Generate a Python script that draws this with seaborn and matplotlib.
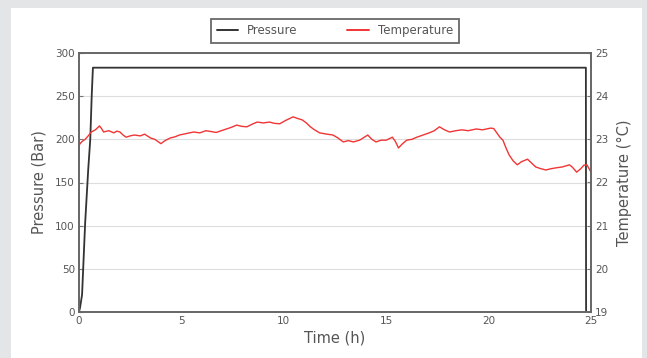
import matplotlib
matplotlib.use("Agg")
import matplotlib.pyplot as plt
import seaborn as sns
import pandas as pd
from matplotlib.patches import Rectangle
from matplotlib.lines import Line2D

# pressure trace (h, bar)
p_time = [0.0, 0.05, 0.15, 0.3, 0.45, 0.55, 0.62, 0.68, 5.0, 10.0, 15.0, 20.0, 24.75, 24.76]
p_bar = [0, 5, 20, 103, 165, 200, 250, 283, 283, 283, 283, 283, 283, 0]

# temperature trace (h, degC)
t_time = [0.0, 0.05, 0.15, 0.3, 0.45, 0.6, 0.8, 1.0, 1.1, 1.2, 1.45, 1.7, 1.85, 2.0, 2.15,
          2.3, 2.5, 2.7, 3.0, 3.2, 3.5, 3.7, 3.85, 4.0, 4.2, 4.45, 4.7, 4.9, 5.2, 5.6,
          5.9, 6.2, 6.45, 6.7, 6.95, 7.2, 7.45, 7.7, 7.95, 8.2, 8.45, 8.7, 9.0, 9.3, 9.55,
          9.8, 10.1, 10.45, 10.7, 10.9, 11.1, 11.3, 11.5, 11.75, 12.1, 12.4, 12.65, 12.9,
          13.15, 13.4, 13.7, 14.1, 14.3, 14.5, 14.75, 15.0, 15.3, 15.45, 15.6, 15.8, 16.0,
          16.25, 16.5, 16.8, 17.1, 17.35, 17.6, 17.85, 18.1, 18.4, 18.7, 19.0, 19.4, 19.7,
          20.1, 20.25, 20.4, 20.55, 20.7, 20.85, 21.0, 21.2, 21.4, 21.6, 21.9, 22.1, 22.3,
          22.55, 22.8, 23.05, 23.3, 23.6, 23.95, 24.1, 24.3, 24.5, 24.65, 24.8, 25.0]
t_degc = [22.85, 22.9, 22.95, 23.0, 23.08, 23.17, 23.22, 23.31, 23.25, 23.17, 23.2, 23.15, 23.19, 23.17, 23.1,
          23.05, 23.08, 23.1, 23.08, 23.12, 23.03, 23.0, 22.95, 22.9, 22.97, 23.03, 23.06, 23.1, 23.13, 23.17,
          23.15, 23.2, 23.18, 23.16, 23.2, 23.24, 23.28, 23.33, 23.3, 23.29, 23.35, 23.4, 23.38, 23.4, 23.37,
          23.36, 23.44, 23.52, 23.48, 23.45, 23.38, 23.29, 23.22, 23.15, 23.12, 23.1, 23.03, 22.94,
          22.97, 22.94, 22.98, 23.1, 23.0, 22.94, 22.98, 22.98, 23.05, 22.95, 22.8, 22.9, 22.98,
          23.0, 23.05, 23.1, 23.15, 23.2, 23.29, 23.22, 23.17, 23.2, 23.22, 23.2, 23.24, 23.22,
          23.26, 23.25, 23.15, 23.05, 22.98, 22.8, 22.64, 22.5, 22.41, 22.48, 22.54, 22.45, 22.36,
          22.32, 22.29, 22.32, 22.34, 22.36, 22.41, 22.35, 22.24, 22.32, 22.4, 22.41, 22.24]

pressure = pd.DataFrame({"time": p_time, "value": p_bar})
temperature = pd.DataFrame({"time": t_time, "value": t_degc})

sns.set_style("white")
plt.rcParams["font.family"] = ["DejaVu Sans"]

fig = plt.figure(figsize=(6.47, 3.58), dpi=100)
fig.patch.set_facecolor("#e4e5e7")
fig.patches.append(Rectangle((11 / 647, 0), 631 / 647, 350 / 358, transform=fig.transFigure,
                             facecolor="white", edgecolor="none", zorder=-1))

ax = fig.add_axes([79 / 647, 1 - 312 / 358, 512 / 647, 259 / 358])
ax2 = ax.twinx()

sns.lineplot(data=temperature, x="time", y="value", ax=ax2, color="#f03535", lw=1.0,
             estimator=None, sort=False)
sns.lineplot(data=pressure, x="time", y="value", ax=ax, color="#333333", lw=1.3,
             estimator=None, sort=False)

ax.set_xlim(0, 25)
ax.set_ylim(0, 300)
ax2.set_ylim(19, 25)
ax.set_xticks([0, 5, 10, 15, 20, 25])
ax.set_yticks(range(0, 301, 50))
ax2.set_yticks(range(19, 26))
ax.yaxis.grid(True, color="#dddddd", lw=0.8)
ax.set_axisbelow(True)

for a in (ax, ax2):
    a.tick_params(direction="in", length=3, labelsize=7.5, labelcolor="#555555", color="#777777", pad=3)
    for s in a.spines.values():
        s.set_color("#666666")
        s.set_linewidth(1.2)

ax.set_xlabel("Time (h)", fontsize=10.5, color="#555555", labelpad=3)
ax.set_ylabel("Pressure (Bar)", fontsize=10.5, color="#555555", labelpad=6)
ax2.set_ylabel("Temperature (°C)", fontsize=10.5, color="#555555", labelpad=6)

handles = [Line2D([], [], color="#333333", lw=1.4), Line2D([], [], color="#f03535", lw=1.4)]
leg = ax.legend(handles, ["Pressure", "Temperature"], loc="lower center", bbox_to_anchor=(0.5, 1.04),
                ncol=2, fontsize=8.5, frameon=True, fancybox=False, shadow=False, borderaxespad=0,
                handlelength=1.8, columnspacing=4.2, borderpad=0.45)
leg.get_frame().set_edgecolor("#444444")
leg.get_frame().set_linewidth(1.3)
for t in leg.get_texts():
    t.set_color("#555555")

fig.savefig("out.png", dpi=100, facecolor=fig.get_facecolor())
